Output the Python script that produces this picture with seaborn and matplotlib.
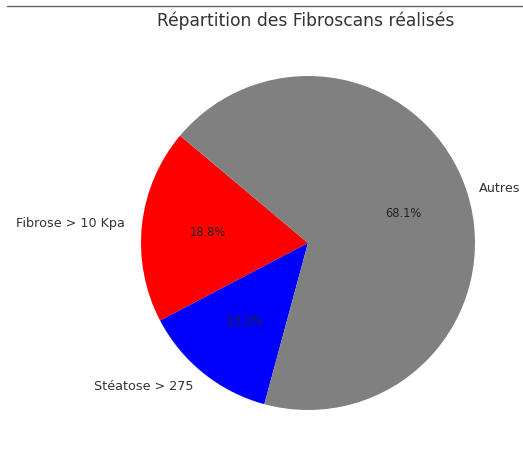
import matplotlib
matplotlib.use("Agg")
import matplotlib.pyplot as plt
import seaborn as sns
from matplotlib.lines import Line2D

sns.set_style("white")
plt.rcParams['font.family'] = ['DejaVu Sans']

labels = ["Fibrose > 10 Kpa", "Stéatose > 275", "Autres"]
values = [18.8, 13.1, 68.1]
colors = ["red", "blue", "gray"]

fig = plt.figure(figsize=(5.23, 4.55), dpi=100)
cx, cy, r = 308 / 523, 1 - 243 / 455, 167
ax = fig.add_axes([cx - r / 523, cy - r / 455, 2 * r / 523, 2 * r / 455])

wedges, texts, autotexts = ax.pie(values, labels=labels, colors=colors,
                                  autopct="%1.1f%%", startangle=140,
                                  wedgeprops={"linewidth": 0, "edgecolor": "none"},
                                  textprops={"fontsize": 9.2, "color": "#333333"})
for t in autotexts:
    t.set_fontsize(8.3)
    t.set_color("#222222")
# keep "Autres" inside the right edge
x, y = texts[2].get_position()
texts[2].set_position((x - 0.025, y))

ax.set_xlim(-1, 1)
ax.set_ylim(-1, 1)
ax.set_aspect("equal")

fig.text(306 / 523, 1 - 21 / 455, "Répartition des Fibroscans réalisés",
         ha="center", va="center", fontsize=12.3, color="#333333")

# thin rule at the top of the image
fig.add_artist(Line2D([7 / 523, 1], [1 - 6 / 455, 1 - 6 / 455],
                      transform=fig.transFigure, color="#666666", lw=1))

fig.savefig("out.png", dpi=100)
